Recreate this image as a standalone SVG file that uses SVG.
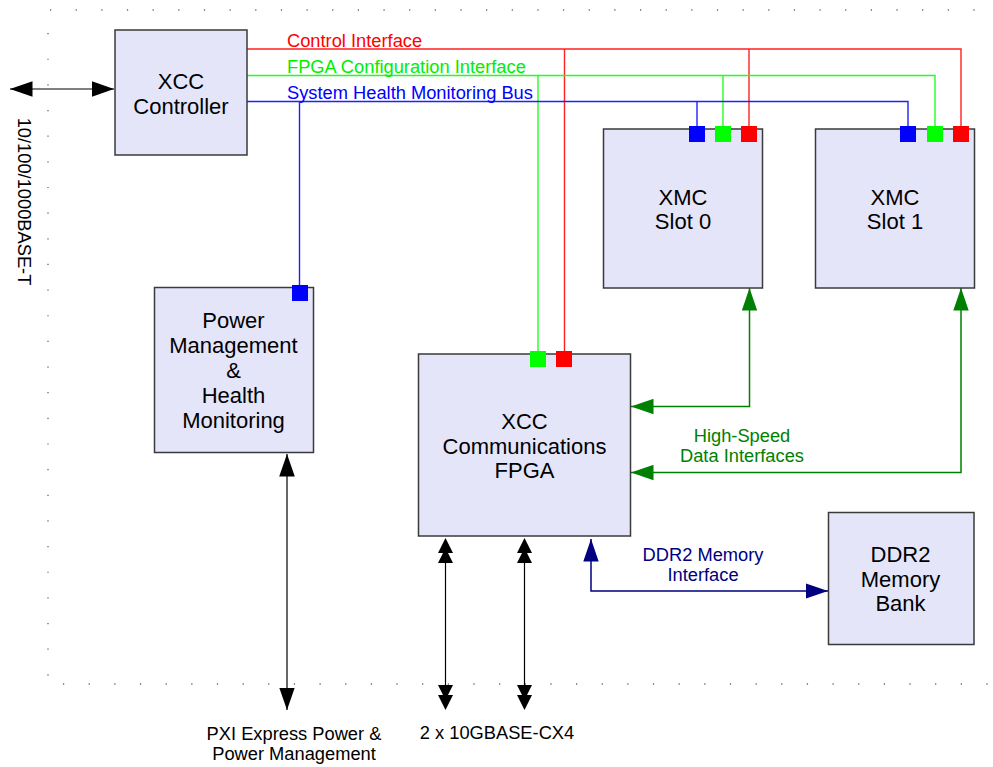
<svg xmlns="http://www.w3.org/2000/svg" xmlns:xlink="http://www.w3.org/1999/xlink" width="993" height="767" viewBox="0 0 993 767">
<style>
.box{fill:#e5e5fa;stroke:#3a3a3a;stroke-width:1.5}
.bt{font-family:"Liberation Sans",Arial,sans-serif;font-size:22px;fill:#000;text-anchor:middle}
.lt{font-family:"Liberation Sans",Arial,sans-serif;font-size:18.3px}
.dots{stroke:#666;stroke-width:1.3;fill:none}
.red{stroke:#ff2020;stroke-width:1.4;fill:none}
.grn{stroke:#20ff20;stroke-width:1.4;fill:none}
.blu{stroke:#2020ff;stroke-width:1.4;fill:none}
.blk{stroke:#000;stroke-width:1.2;fill:none}
.dg{stroke:#008000;stroke-width:1.5;fill:none}
.nv{stroke:#000080;stroke-width:1.5;fill:none}
</style>
<defs>
<marker id="aBlk" markerUnits="userSpaceOnUse" markerWidth="23" markerHeight="16" refX="22.5" refY="8" orient="auto-start-reverse"><path d="M0,0.2 L22.5,8 L0,15.8 z" fill="#000"/></marker>
<marker id="aGrn" markerUnits="userSpaceOnUse" markerWidth="23" markerHeight="16" refX="22.5" refY="8" orient="auto-start-reverse"><path d="M0,0.3 L22.5,8 L0,15.7 z" fill="#008000"/></marker>
<marker id="aNv" markerUnits="userSpaceOnUse" markerWidth="23" markerHeight="16" refX="22.5" refY="8" orient="auto-start-reverse"><path d="M0,0.3 L22.5,8 L0,15.7 z" fill="#000080"/></marker>
<path id="hUp" d="M0,0 L7.5,15 L-7.5,15 z" fill="#000"/>
<path id="hDn" d="M0,0 L7.5,-15 L-7.5,-15 z" fill="#000"/>
</defs>
<rect width="993" height="767" fill="#fff"/>

<g id="frame">
<line class="dots" x1="50" y1="10" x2="976" y2="10" stroke-dasharray="1.2 24.45"/>
<line class="dots" x1="48" y1="33" x2="48" y2="676" stroke-dasharray="1.2 24.45"/>
<line class="dots" x1="63" y1="684" x2="988" y2="684" stroke-dasharray="1.2 24.45"/>
</g>

<g id="connectors">
<!-- control interface (red) -->
<polyline class="red" points="247,49 961,49 961,127"/>
<line class="red" x1="564.5" y1="49" x2="564.5" y2="352"/>
<line class="red" x1="749" y1="49" x2="749" y2="127"/>
<!-- FPGA configuration (green) -->
<polyline class="grn" points="247,75.5 935,75.5 935,127"/>
<line class="grn" x1="538" y1="75.5" x2="538" y2="352"/>
<line class="grn" x1="723" y1="75.5" x2="723" y2="127"/>
<!-- health bus (blue) -->
<polyline class="blu" points="247,101.5 908,101.5 908,127"/>
<line class="blu" x1="697" y1="101.5" x2="697" y2="127"/>
<line class="blu" x1="299.5" y1="101.5" x2="299.5" y2="286"/>
<!-- ethernet -->
<line class="blk" x1="10" y1="89" x2="114" y2="89" marker-start="url(#aBlk)" marker-end="url(#aBlk)"/>
<!-- PXI power -->
<line class="blk" x1="287" y1="454" x2="287" y2="710" marker-start="url(#aBlk)" marker-end="url(#aBlk)"/>
<!-- 10GBASE-CX4 -->
<line class="blk" x1="445.5" y1="550" x2="445.5" y2="698"/>
<use xlink:href="#hUp" x="445.5" y="538"/>
<use xlink:href="#hUp" x="445.5" y="548"/>
<use xlink:href="#hDn" x="445.5" y="700"/>
<use xlink:href="#hDn" x="445.5" y="710"/>
<line class="blk" x1="524.5" y1="550" x2="524.5" y2="698"/>
<use xlink:href="#hUp" x="524.5" y="538"/>
<use xlink:href="#hUp" x="524.5" y="548"/>
<use xlink:href="#hDn" x="524.5" y="700"/>
<use xlink:href="#hDn" x="524.5" y="710"/>
<!-- high-speed -->
<polyline class="dg" points="631,406.5 749.5,406.5 749.5,288" marker-start="url(#aGrn)" marker-end="url(#aGrn)"/>
<polyline class="dg" points="631,472.5 961,472.5 961,288" marker-start="url(#aGrn)" marker-end="url(#aGrn)"/>
<!-- DDR2 -->
<polyline class="nv" points="591,539 591,591 828,591" marker-start="url(#aNv)" marker-end="url(#aNv)"/>
</g>

<g id="labels">
<text class="lt" x="287" y="46.5" fill="#ff0000">Control Interface</text>
<text class="lt" x="287" y="73" fill="#00ee00">FPGA Configuration Interface</text>
<text class="lt" x="287" y="99" fill="#0000ff">System Health Monitoring Bus</text>
<text class="lt" transform="translate(18,201.5) rotate(90)" text-anchor="middle" fill="#000">10/100/1000BASE-T</text>
<text class="lt" x="742" y="442" text-anchor="middle" fill="#008000">High-Speed</text>
<text class="lt" x="742" y="462" text-anchor="middle" fill="#008000">Data Interfaces</text>
<text class="lt" x="703" y="560.5" text-anchor="middle" fill="#000080">DDR2 Memory</text>
<text class="lt" x="703" y="581" text-anchor="middle" fill="#000080">Interface</text>
<text class="lt" x="294" y="740" text-anchor="middle" fill="#000">PXI Express Power &amp;</text>
<text class="lt" x="294" y="760" text-anchor="middle" fill="#000">Power Management</text>
<text class="lt" x="497" y="738.5" text-anchor="middle" fill="#000">2 x 10GBASE-CX4</text>
</g>

<g id="xcc-controller">
<rect class="box" x="115" y="30" width="132" height="125"/>
<text class="bt" x="181" y="88.5">XCC</text>
<text class="bt" x="181" y="113.5">Controller</text>
</g>

<g id="xmc-slot0">
<rect class="box" x="603.5" y="129" width="159" height="159"/>
<rect x="689" y="126" width="16" height="16" fill="#0000ff"/>
<rect x="715" y="126" width="16" height="16" fill="#00ff00"/>
<rect x="741" y="126" width="16" height="16" fill="#ff0000"/>
<text class="bt" x="683" y="204.5">XMC</text>
<text class="bt" x="683" y="229">Slot 0</text>
</g>

<g id="xmc-slot1">
<rect class="box" x="815.5" y="129" width="159" height="159"/>
<rect x="900" y="126" width="16" height="16" fill="#0000ff"/>
<rect x="927" y="126" width="16" height="16" fill="#00ff00"/>
<rect x="953" y="126" width="16" height="16" fill="#ff0000"/>
<text class="bt" x="895" y="204.5">XMC</text>
<text class="bt" x="895" y="229">Slot 1</text>
</g>

<g id="power-mgmt">
<rect class="box" x="154.5" y="287.5" width="159" height="165"/>
<rect x="292" y="285" width="16" height="16" fill="#0000ff"/>
<text class="bt" x="233.5" y="328">Power</text>
<text class="bt" x="233.5" y="353">Management</text>
<text class="bt" x="233.5" y="378">&amp;</text>
<text class="bt" x="233.5" y="403">Health</text>
<text class="bt" x="233.5" y="428">Monitoring</text>
</g>

<g id="xcc-fpga">
<rect class="box" x="418.5" y="354" width="212" height="182"/>
<rect x="530" y="351" width="16" height="16" fill="#00ff00"/>
<rect x="556" y="351" width="16" height="16" fill="#ff0000"/>
<text class="bt" x="524.5" y="428.5">XCC</text>
<text class="bt" x="524.5" y="453.5">Communications</text>
<text class="bt" x="524.5" y="478">FPGA</text>
</g>

<g id="ddr2-bank">
<rect class="box" x="828.5" y="512.5" width="145.5" height="132"/>
<text class="bt" x="900.5" y="562">DDR2</text>
<text class="bt" x="900.5" y="586.5">Memory</text>
<text class="bt" x="900.5" y="611">Bank</text>
</g>
</svg>
